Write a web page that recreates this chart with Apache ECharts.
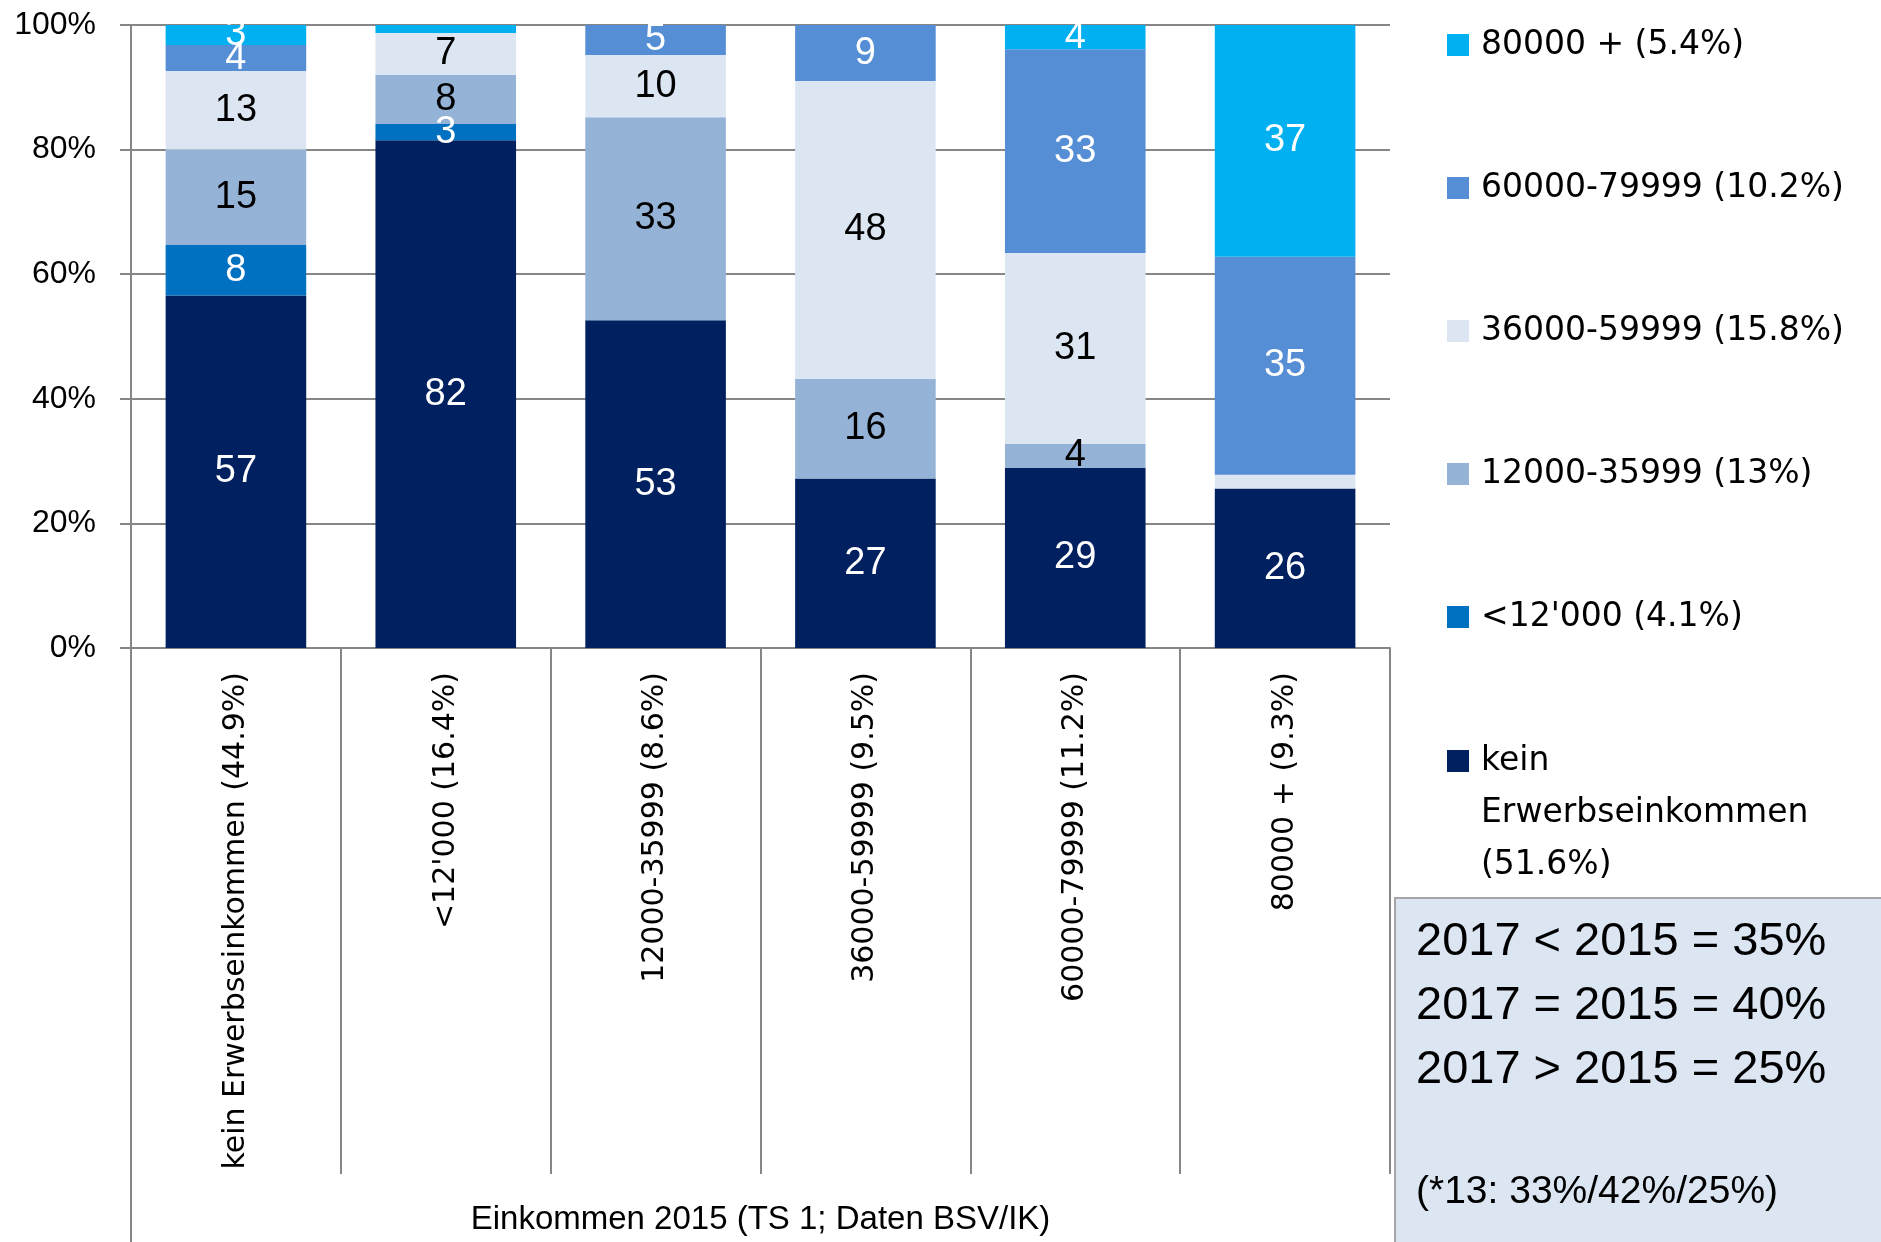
<!DOCTYPE html>
<html>
<head>
<meta charset="utf-8">
<script src="https://cdn.jsdelivr.net/npm/echarts@6/dist/echarts.min.js"></script>
<style>
  html, body { margin: 0; padding: 0; background: #fff; }
  #chart { width: 1881px; height: 1242px; }
</style>
</head>
<body>
<div id="chart"></div>
<script>
// categories: income 2015
const categories = [
  'kein Erwerbseinkommen (44.9%)',
  "<12'000 (16.4%)",
  '12000-35999 (8.6%)',
  '36000-59999 (9.5%)',
  '60000-79999 (11.2%)',
  '80000 + (9.3%)'
];

// series names (stack order, bottom to top)
const seriesNames = [
  'kein Erwerbseinkommen (51.6%)',
  "<12'000 (4.1%)",
  '12000-35999 (13%)',
  '36000-59999 (15.8%)',
  '60000-79999 (10.2%)',
  '80000 + (5.4%)'
];

// shares in % per category
const keinValues = [56.6, 81.5, 52.6, 27.2, 28.9, 25.6];
const under12Values = [8.1, 2.6, 0, 0, 0, 0];
const r12to36Values = [15.3, 7.9, 32.6, 16.0, 3.9, 0];
const r36to60Values = [12.6, 6.7, 10.0, 47.8, 30.6, 2.2];
const r60to80Values = [4.2, 0, 4.8, 9.0, 32.7, 35.0];
const over80Values = [3.2, 1.3, 0, 0, 3.9, 37.2];

const yTicks = [0, 20, 40, 60, 80, 100];

const boxLines = ['2017 < 2015 = 35%', '2017 = 2015 = 40%', '2017 > 2015 = 25%'];
const boxNote = '(*13: 33%/42%/25%)';

const colors = ['#002060', '#0070C0', '#95B3D7', '#DCE6F2', '#558ED5', '#00B0F0'];
const labelColors = ['#fff', '#fff', '#000', '#000', '#fff', '#fff'];
const allValues = [keinValues, under12Values, r12to36Values, r36to60Values, r60to80Values, over80Values];

const sans = "'Liberation Sans', Arial, sans-serif";
const wide = "'DejaVu Sans', Verdana, sans-serif";
const gridColor = '#868686';

// plot area
const gLeft = 131, gTop = 25, gRight = 1390, gBottom = 648;

const chart = echarts.init(document.getElementById('chart'));

const series = seriesNames.map((name, i) => ({
  name: name,
  type: 'bar',
  stack: 'total',
  barCategoryGap: '33%',
  data: allValues[i],
  itemStyle: { color: colors[i] },
  label: {
    show: true,
    position: 'inside',
    color: labelColors[i],
    fontFamily: sans,
    fontSize: 38,
    formatter: (p) => (p.value >= 2.5 ? String(Math.round(p.value)) : '')
  }
}));

const legendText = { fontFamily: wide, fontSize: 33, color: '#000', lineHeight: 52, padding: [0, 0, 0, 7] };

const option = {
  animation: false,
  backgroundColor: '#fff',
  color: colors,
  grid: {
    left: gLeft, top: gTop, right: 1881 - gRight, bottom: 1242 - gBottom,
    containLabel: false, outerBoundsMode: 'none'
  },
  legend: [
    {
      orient: 'vertical',
      left: 1442,
      top: 14,
      itemWidth: 22,
      itemHeight: 22,
      itemGap: 91,
      icon: 'rect',
      data: seriesNames.slice(1).reverse(),
      textStyle: legendText,
      selectedMode: false
    },
    {
      orient: 'vertical',
      left: 1442,
      top: 626,
      itemWidth: 22,
      itemHeight: 22,
      icon: 'rect',
      data: [seriesNames[0]],
      // two empty lines on top so the first text line sits beside the marker
      formatter: (n) => '\n\n' + n.replace(' ', '\n').replace(' (', '\n('),
      textStyle: legendText,
      selectedMode: false
    }
  ],
  xAxis: {
    type: 'category',
    data: categories,
    name: 'Einkommen 2015 (TS 1; Daten BSV/IK)',
    nameLocation: 'middle',
    nameGap: 555,
    nameTextStyle: { fontFamily: sans, fontSize: 33, color: '#000' },
    axisLine: { lineStyle: { color: gridColor, width: 2 } },
    axisTick: { show: true, interval: 0, length: 526, lineStyle: { color: gridColor, width: 2 } },
    axisLabel: {
      interval: 0,
      rotate: 90,
      margin: 24,
      fontFamily: wide,
      fontSize: 30,
      color: '#000'
    }
  },
  yAxis: {
    type: 'value',
    min: yTicks[0],
    max: yTicks[yTicks.length - 1],
    interval: yTicks[1] - yTicks[0],
    axisLine: { show: true, lineStyle: { color: gridColor, width: 2 } },
    axisTick: { show: true, length: 11, lineStyle: { color: gridColor, width: 2 } },
    splitLine: { lineStyle: { color: gridColor, width: 2 } },
    axisLabel: {
      formatter: '{value}%',
      margin: 35,
      fontFamily: sans,
      fontSize: 32,
      color: '#000'
    }
  },
  graphic: [
    // y axis line continues through the category label area
    {
      type: 'line',
      shape: { x1: gLeft, y1: gBottom, x2: gLeft, y2: 1242 },
      style: { stroke: gridColor, lineWidth: 2 },
      z: 1
    },
    {
      type: 'rect',
      shape: { x: 1395, y: 898, width: 500, height: 360 },
      style: { fill: '#DCE6F2', stroke: '#A6A6A6', lineWidth: 2 },
      z: 10
    },
    ...boxLines.map((t, i) => ({
      type: 'text',
      x: 1416,
      y: 942 + i * 64,
      style: { text: t, fontFamily: sans, fontSize: 47, fill: '#000', verticalAlign: 'middle' },
      z: 11
    })),
    {
      type: 'text',
      x: 1416,
      y: 1192,
      style: { text: boxNote, fontFamily: sans, fontSize: 39, fill: '#000', verticalAlign: 'middle' },
      z: 11
    }
  ],
  series: series
};

chart.setOption(option);
</script>
</body>
</html>
